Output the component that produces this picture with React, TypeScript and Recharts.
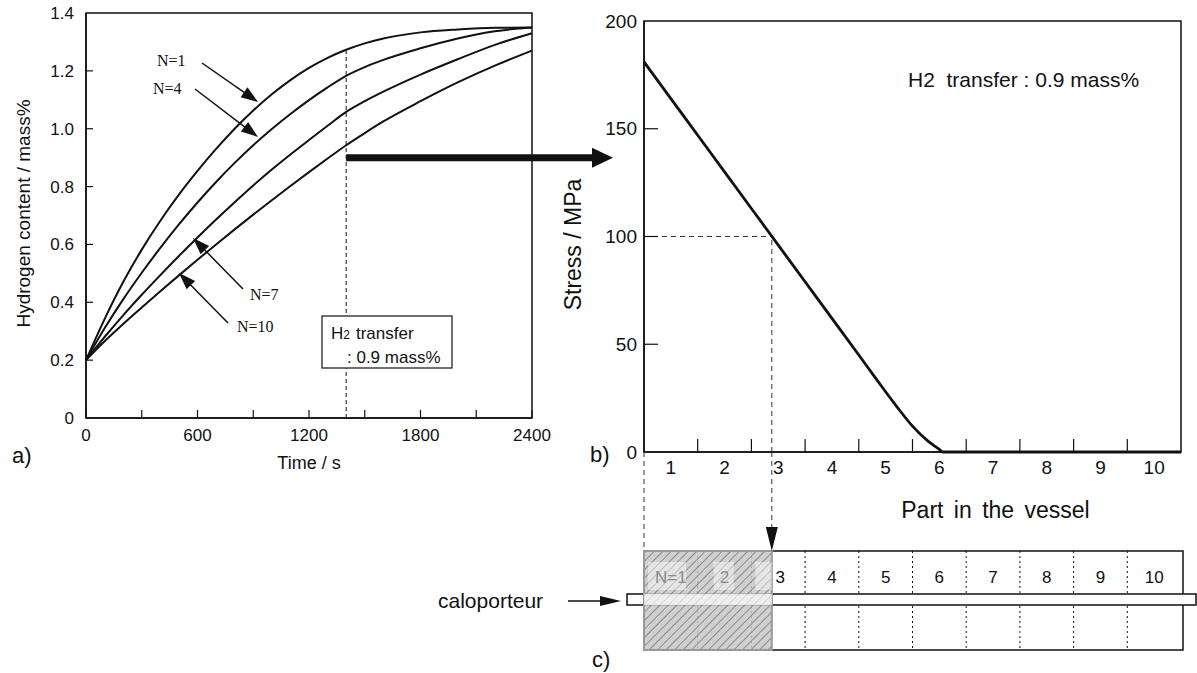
import React from "react";
import {
    LineChart,
    Line,
    XAxis,
    YAxis,
    ReferenceLine,
    ReferenceArea
} from "recharts";

const SANS = "'Liberation Sans', Arial, Helvetica, sans-serif";
const SERIF = "'Liberation Serif', 'Times New Roman', serif";
const INK = "#111";

// a) hydrogen content vs time, one curve per vessel part
const timeSec = [0, 100, 200, 300, 400, 500, 600, 700, 800, 900, 1000, 1100, 1200, 1300, 1400, 1500, 1600, 1800, 2000, 2200, 2400];
const hN1 = [0.2, 0.342, 0.47, 0.582, 0.682, 0.772, 0.854, 0.93, 1.0, 1.063, 1.119, 1.168, 1.21, 1.245, 1.273, 1.295, 1.312, 1.333, 1.343, 1.349, 1.35];
const hN4 = [0.2, 0.31, 0.41, 0.502, 0.588, 0.669, 0.745, 0.816, 0.882, 0.943, 0.999, 1.051, 1.099, 1.143, 1.183, 1.213, 1.238, 1.278, 1.312, 1.337, 1.35];
const hN7 = [0.2, 0.28, 0.355, 0.426, 0.494, 0.56, 0.624, 0.686, 0.746, 0.804, 0.859, 0.911, 0.961, 1.01, 1.058, 1.095, 1.128, 1.187, 1.24, 1.29, 1.33];
const hN10 = [0.2, 0.265, 0.325, 0.382, 0.438, 0.493, 0.547, 0.6, 0.652, 0.703, 0.753, 0.802, 0.85, 0.897, 0.943, 0.985, 1.025, 1.095, 1.16, 1.218, 1.27];
const timeTicks = [0, 300, 600, 900, 1200, 1500, 1800, 2100, 2400];
const hTicks = [0, 0.2, 0.4, 0.6, 0.8, 1.0, 1.2, 1.4];
const transferTime = 1400;
const transferH = 0.9;
const transferTopH = 1.273;

// b) stress along the vessel
const part = [0.5, 1, 1.5, 2, 2.5, 3, 3.5, 4, 4.5, 4.85, 5.2, 5.5, 5.8, 6, 6.06, 7, 8, 9, 10, 10.5];
const stress = [181, 164, 147, 130, 113, 96, 79, 62, 45, 33, 21.3, 12, 4.8, 1.2, 0, 0, 0, 0, 0, 0];
const partTicks = [1, 1.5, 2, 2.5, 3, 3.5, 4, 4.5, 5, 5.5, 6, 6.5, 7, 7.5, 8, 8.5, 9, 9.5, 10];
const stressTicks = [0, 50, 100, 150, 200];
const critPart = 2.88;
const critStress = 100;

// c) vessel cells
const cellLabels = ["N=1", "2", "3", "4", "5", "6", "7", "8", "9", "10"];

const dataA = timeSec.map((t, i) => ({ t, n1: hN1[i], n4: hN4[i], n7: hN7[i], n10: hN10[i] }));
const dataB = part.map((p, i) => ({ part: p, stress: stress[i] }));

// plot-area geometry (matches the chart margins below)
const A = { left: 86, right: 532, top: 13, bottom: 418 };
const B = { left: 644, right: 1181, top: 21, bottom: 452 };
const ax = (t: number) => A.left + (t / 2400) * (A.right - A.left);
const ay = (h: number) => A.bottom - (h / 1.4) * (A.bottom - A.top);
const cellW = (B.right - B.left) / 10;
const bx = (p: number) => B.left + (p - 0.5) * cellW;

const PART_TICK_MARGIN = 9;

function PartTick(props: any) {
    const { x, y, payload } = props;
    const v = payload.value as number;
    if (Number.isInteger(v)) {
        return (
            <text x={x} y={y} dy="0.71em" textAnchor="middle" fontSize={19} fontFamily={SANS} fill={INK}>
                {v}
            </text>
        );
    }
    const axisY = y - PART_TICK_MARGIN;
    return <line x1={x} x2={x} y1={axisY} y2={axisY - 13} stroke={INK} strokeWidth={1.2} />;
}

// y tick: label to the left, short inward tick mark (none at the frame corners)
function LeftTick(props: any) {
    const { x, y, payload, margin, len, fontSize, format, ends } = props;
    const v = payload.value as number;
    const axisX = x + margin;
    const showMark = !ends.includes(v);
    return (
        <g>
            <text x={x} y={y} dy="0.355em" textAnchor="end" fontSize={fontSize} fontFamily={SANS} fill={INK}>
                {format(v)}
            </text>
            {showMark && <line x1={axisX} x2={axisX + len} y1={y} y2={y} stroke={INK} strokeWidth={1.2} />}
        </g>
    );
}

function Arrow({ x1, y1, x2, y2, head = 17, half = 6, width = 1.5 }: any) {
    const dx = x2 - x1;
    const dy = y2 - y1;
    const len = Math.hypot(dx, dy);
    const ux = dx / len;
    const uy = dy / len;
    const hx = x2 - ux * head;
    const hy = y2 - uy * head;
    const px = -uy;
    const py = ux;
    return (
        <g>
            <line x1={x1} y1={y1} x2={hx + ux} y2={hy + uy} stroke={INK} strokeWidth={width} />
            <polygon
                points={`${x2},${y2} ${hx + px * half},${hy + py * half} ${hx - px * half},${hy - py * half}`}
                fill={INK}
            />
        </g>
    );
}

function Vessel() {
    const top = 551;
    const bottom = 650;
    const tubeTop = 594;
    const tubeBottom = 605;
    const hatchRight = bx(critPart);
    return (
        <g>
            <rect x={B.left} y={top} width={B.right - B.left + 2} height={bottom - top} fill="#fff" stroke={INK} strokeWidth={1.5} />
            {cellLabels.slice(1).map((_, i) => {
                const x = B.left + (i + 1) * cellW;
                return <line key={i} x1={x} x2={x} y1={top} y2={bottom} stroke={INK} strokeWidth={1} strokeDasharray="2 3" />;
            })}
            {cellLabels.map((lab, i) => (
                <text key={lab} x={B.left + (i + 0.5) * cellW + (i === 2 ? 2 : 0)} y={583} textAnchor="middle" fontSize={17} fontFamily={SANS} fill={INK}>
                    {lab}
                </text>
            ))}
            <rect x={627} y={tubeTop} width={1196 - 627} height={tubeBottom - tubeTop} fill="#fff" stroke={INK} strokeWidth={1.5} />
            {/* hatched part: where stress exceeds the critical value */}
            <rect x={B.left} y={top} width={hatchRight - B.left} height={bottom - top} fill="#c8c8c8" opacity={0.85} />
            <rect x={B.left} y={top} width={hatchRight - B.left} height={bottom - top} fill="url(#hatch)" stroke="#999" strokeWidth={2} />
            <rect x={B.left} y={tubeTop} width={hatchRight - B.left} height={tubeBottom - tubeTop} fill="#fff" opacity={0.65} />
            <rect x={B.left + 4} y={562} width={38} height={28} fill="#fff" opacity={0.45} />
            <rect x={B.left + cellW + 16} y={562} width={20} height={28} fill="#fff" opacity={0.45} />
            <rect x={B.left + 2 * cellW + 4} y={562} width={hatchRight - B.left - 2 * cellW - 4} height={28} fill="#fff" opacity={0.45} />
            {cellLabels.slice(0, 2).map((lab, i) => (
                <text key={lab} x={B.left + (i + 0.5) * cellW} y={583} textAnchor="middle" fontSize={17} fontFamily={SANS} fill="#8e8e8e">
                    {lab}
                </text>
            ))}
        </g>
    );
}

export default function App() {
    return (
        <div style={{ position: "absolute", left: 0, top: 0, width: 1197, height: 673, background: "#fff" }}>
            <div style={{ position: "absolute", left: 0, top: 0 }}>
                <LineChart width={560} height={480} data={dataA} margin={{ top: 13, right: 28, bottom: 22, left: 0 }}>
                    <XAxis
                        type="number"
                        dataKey="t"
                        domain={[0, 2400]}
                        ticks={timeTicks}
                        interval={0}
                        height={40}
                        tickSize={-8}
                        tickMargin={19}
                        tickFormatter={(v: number) => (v % 600 === 0 ? String(v) : "")}
                        tick={{ fontSize: 17, fontFamily: SANS, fill: INK }}
                        axisLine={{ stroke: INK, strokeWidth: 1.5 }}
                        tickLine={{ stroke: INK, strokeWidth: 1.2 }}
                        label={{ value: "Time / s", position: "bottom", offset: -2, fontSize: 18, fontFamily: SANS, fill: INK }}
                    />
                    <YAxis
                        type="number"
                        domain={[0, 1.4]}
                        ticks={hTicks}
                        interval={0}
                        width={86}
                        tickSize={0}
                        tickMargin={12}
                        tickLine={false}
                        tick={(p: any) => (
                            <LeftTick {...p} margin={12} len={7} fontSize={17} ends={[0, 1.4]}
                                format={(v: number) => (v === 0 ? "0" : v.toFixed(1))} />
                        )}
                        axisLine={{ stroke: INK, strokeWidth: 1.5 }}
                        label={{
                            value: "Hydrogen content / mass%",
                            angle: -90,
                            position: "insideLeft",
                            offset: 23,
                            dy: -2,
                            textAnchor: "middle",
                            fontSize: 19,
                            fontFamily: SANS,
                            fill: INK
                        }}
                    />
                    <ReferenceArea x1={0} x2={2400} y1={0} y2={1.4} fill="none" stroke={INK} strokeWidth={1.5} />
                    <ReferenceLine
                        segment={[{ x: transferTime, y: 0 }, { x: transferTime, y: transferTopH }]}
                        stroke={INK}
                        strokeWidth={1}
                        strokeDasharray="4 3"
                    />
                    <Line type="monotone" dataKey="n1" stroke={INK} strokeWidth={2} dot={false} isAnimationActive={false} />
                    <Line type="monotone" dataKey="n4" stroke={INK} strokeWidth={2} dot={false} isAnimationActive={false} />
                    <Line type="monotone" dataKey="n7" stroke={INK} strokeWidth={2} dot={false} isAnimationActive={false} />
                    <Line type="monotone" dataKey="n10" stroke={INK} strokeWidth={2} dot={false} isAnimationActive={false} />
                </LineChart>
            </div>

            <div style={{ position: "absolute", left: 540, top: 0 }}>
                <LineChart width={657} height={530} data={dataB} margin={{ top: 21, right: 16, bottom: 8, left: 0 }}>
                    <XAxis
                        type="number"
                        dataKey="part"
                        domain={[0.5, 10.5]}
                        ticks={partTicks}
                        interval={0}
                        height={70}
                        tickSize={0}
                        tickMargin={PART_TICK_MARGIN}
                        tickLine={false}
                        tick={(p: any) => <PartTick {...p} />}
                        axisLine={{ stroke: INK, strokeWidth: 1.5 }}
                        label={{ value: "Part in the vessel", position: "insideBottom", offset: 4, dx: 83, fontSize: 23, fontFamily: SANS, fill: INK, wordSpacing: 4 }}
                    />
                    <YAxis
                        type="number"
                        domain={[0, 200]}
                        ticks={stressTicks}
                        interval={0}
                        width={104}
                        tickSize={0}
                        tickMargin={7}
                        tickLine={false}
                        tick={(p: any) => (
                            <LeftTick {...p} margin={7} len={14} fontSize={19} ends={[0, 200]}
                                format={(v: number) => String(v)} />
                        )}
                        axisLine={{ stroke: INK, strokeWidth: 1.5 }}
                        label={{
                            value: "Stress / MPa",
                            angle: -90,
                            position: "insideLeft",
                            offset: 33,
                            dy: 8,
                            textAnchor: "middle",
                            fontSize: 23,
                            fontFamily: SANS,
                            fill: INK
                        }}
                    />
                    <ReferenceArea x1={0.5} x2={10.5} y1={0} y2={200} fill="none" stroke={INK} strokeWidth={1.5} />
                    <ReferenceLine
                        segment={[{ x: 0.5, y: critStress }, { x: critPart, y: critStress }]}
                        stroke="#333"
                        strokeWidth={1}
                        strokeDasharray="5 4"
                    />
                    <ReferenceLine
                        segment={[{ x: critPart, y: 0 }, { x: critPart, y: critStress }]}
                        stroke="#333"
                        strokeWidth={1}
                        strokeDasharray="5 4"
                    />
                    <Line type="monotone" dataKey="stress" stroke={INK} strokeWidth={2.8} dot={false} isAnimationActive={false} />
                </LineChart>
            </div>

            <svg width={1197} height={673} style={{ position: "absolute", left: 0, top: 0, pointerEvents: "none" }}>
                <defs>
                    <pattern id="hatch" width="6" height="6" patternUnits="userSpaceOnUse" patternTransform="rotate(45)">
                        <line x1="0" y1="0" x2="0" y2="6" stroke="#7a7a7a" strokeWidth="1.6" />
                    </pattern>
                </defs>

                {/* curve labels of a) */}
                <g fontFamily={SERIF} fontSize={16} fill={INK}>
                    <text x={157} y={66}>N=1</text>
                    <text x={153} y={94}>N=4</text>
                    <text x={250} y={300}>N=7</text>
                    <text x={237} y={332}>N=10</text>
                </g>
                <Arrow x1={202} y1={63} x2={258} y2={102} />
                <Arrow x1={195} y1={89} x2={258} y2={137} />
                <Arrow x1={243} y1={289} x2={193} y2={238} />
                <Arrow x1={228} y1={323} x2={179} y2={273} />

                <rect x={322} y={316} width={130} height={52} fill="#fff" stroke={INK} strokeWidth={1.2} />
                <text x={331} y={339} fontFamily={SANS} fontSize={17} fill={INK}>
                    H<tspan fontSize={12}>2</tspan>
                    <tspan dx={6}>transfer</tspan>
                </text>
                <text x={347} y={363} fontFamily={SANS} fontSize={17} fill={INK}>: 0.9 mass%</text>

                {/* link a) -> b) */}
                <Arrow x1={ax(transferTime)} y1={ay(transferH)} x2={613} y2={ay(transferH)} head={21} half={10} width={7} />

                <text x={908} y={87} fontFamily={SANS} fontSize={21} fill={INK} style={{ whiteSpace: "pre" }}>
                    H2  transfer : 0.9 mass%
                </text>

                <Vessel />

                {/* projections b) -> c) */}
                <line x1={B.left} x2={B.left} y1={B.bottom} y2={551} stroke="#333" strokeWidth={1} strokeDasharray="5 4" />
                <line x1={bx(critPart)} x2={bx(critPart)} y1={B.bottom} y2={530} stroke="#333" strokeWidth={1} strokeDasharray="5 4" />
                <polygon points={`${bx(critPart) - 6},${527} ${bx(critPart) + 6},${527} ${bx(critPart)},${551}`} fill={INK} />

                <text x={438} y={608} fontFamily={SANS} fontSize={21} fill={INK}>caloporteur</text>
                <Arrow x1={568} y1={601} x2={621} y2={601} head={21} half={5} width={1.5} />

                <g fontFamily={SANS} fontSize={22} fill={INK}>
                    <text x={12} y={463}>a)</text>
                    <text x={590} y={462}>b)</text>
                    <text x={592} y={667}>c)</text>
                </g>
            </svg>
        </div>
    );
}
